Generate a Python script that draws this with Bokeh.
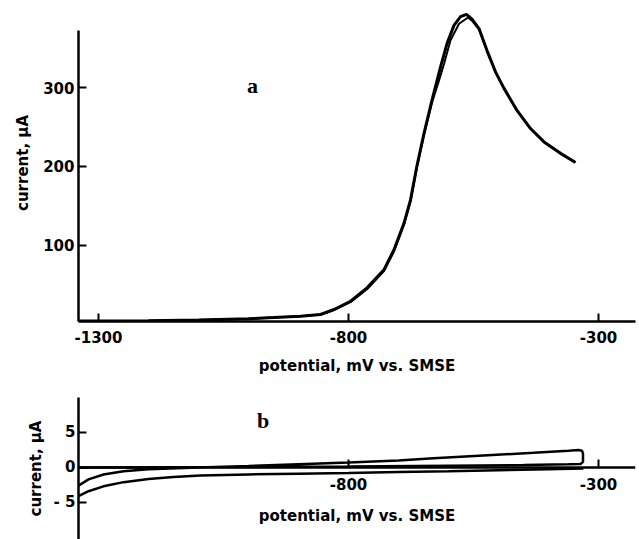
from bokeh.plotting import figure
from bokeh.layouts import column
from bokeh.models import FixedTicker, Range1d, Label
from bokeh.embed import file_html
from bokeh.resources import INLINE

# ---- data (panel a): two nearly coincident scans ----
pot_a1 = [-1340, -1200, -1100, -1000, -950, -896, -856, -829, -796, -763, -729, -709, -689,
          -676, -663, -649, -633, -616, -603, -589, -576, -564, -553, -539, -523, -506,
          -489, -463, -436, -409, -376, -346]
cur_a1 = [3.5, 4, 5, 6.5, 8, 9.7, 11.9, 18.2, 28.7, 45.7, 68.8, 94.1, 127.9,
          157.4, 201, 241.9, 284, 326, 355.8, 379, 390, 393, 387, 375, 347, 320,
          299, 271, 248, 231, 216.5, 205]
pot_a2 = [-1340, -1200, -1100, -1000, -950, -896, -856, -829, -796, -763, -729, -709, -689,
          -676, -663, -649, -633, -619, -609, -596, -579, -561, -553, -539, -523, -506,
          -489, -463, -436, -409, -376, -346]
cur_a2 = [3.5, 4, 5, 6.5, 8, 9.7, 11.9, 17.5, 27.5, 44, 67, 92, 126,
          155, 199, 240, 281, 309, 330, 360, 381, 389, 385, 374, 347, 320,
          299, 271, 248, 231, 216.5, 205]

# ---- data (panel b) ----
pot_b1 = [-1340, -1320, -1290, -1250, -1200, -1100, -1000, -900, -800, -700, -630, -530,
          -430, -360, -340, -333, -331, -331, -336, -360, -450, -600, -800, -1000, -1340]
cur_b1 = [-2.6, -1.7, -1.0, -0.55, -0.25, 0, 0.2, 0.45, 0.7, 1.0, 1.3, 1.7,
          2.1, 2.4, 2.5, 2.4, 2.0, 0.8, 0.5, 0.45, 0.35, 0.25, 0.12, 0.05, 0]
pot_b2 = [-1340, -1320, -1290, -1250, -1200, -1150, -1096, -1000, -900, -800, -700, -600,
          -500, -400, -330]
cur_b2 = [-4.1, -3.4, -2.7, -2.1, -1.65, -1.35, -1.15, -1.0, -0.9, -0.8, -0.65, -0.55,
          -0.4, -0.25, -0.15]

xticks_a = [-1300, -800, -300]
yticks_a = [100, 200, 300]
xticks_b = [-800, -300]
yticks_b = [-5, 0, 5]

FONT = "DejaVu Sans"
xlabel = "potential, mV vs. SMSE"
ylabel = "current, \u00b5A"


def style(p):
    p.background_fill_color = "white"
    p.border_fill_color = "white"
    p.outline_line_color = None
    p.xgrid.visible = False
    p.ygrid.visible = False
    for ax in (p.xaxis[0], p.yaxis[0]):
        ax.axis_line_width = 2.5
        ax.axis_line_color = "black"
        ax.major_tick_line_width = 2
        ax.major_tick_line_color = "black"
        ax.major_tick_in = 8
        ax.major_tick_out = 0
        ax.minor_tick_line_color = None
        ax.major_label_text_font = FONT
        ax.major_label_text_font_style = "bold"
        ax.major_label_text_font_size = "15px"
        ax.major_label_text_color = "black"
        ax.axis_label_text_font = FONT
        ax.axis_label_text_font_style = "bold"
        ax.axis_label_text_font_size = "15px"
        ax.axis_label_text_color = "black"


# ---- panel a ----
p1 = figure(width=639, height=377, output_backend="svg", toolbar_location=None,
            x_range=Range1d(-1340, -226), y_range=Range1d(3, 405.5),
            min_border_left=78, min_border_right=4, min_border_top=4, min_border_bottom=0)
style(p1)
p1.line(pot_a1, cur_a1, line_color="black", line_width=3)
p1.line(pot_a2, cur_a2, line_color="black", line_width=2)
p1.xaxis.ticker = FixedTicker(ticks=xticks_a)
p1.yaxis.ticker = FixedTicker(ticks=yticks_a)
p1.xaxis.major_label_overrides = {t: str(t) for t in xticks_a}
p1.xaxis.axis_label = xlabel
p1.yaxis.axis_label = ylabel
p1.xaxis.major_label_standoff = 9
p1.xaxis.axis_label_standoff = 11
p1.yaxis.major_label_standoff = 4
p1.yaxis.axis_label_standoff = 8
p1.yaxis.bounds = (3, 372)
p1.add_layout(Label(x=-992, y=303, text="a", text_font="Liberation Serif",
                    text_font_style="bold", text_font_size="22px", text_color="black",
                    text_align="center", text_baseline="alphabetic"))

# ---- panel b ----
p2 = figure(width=639, height=162, output_backend="svg", toolbar_location=None,
            x_range=Range1d(-1340, -226), y_range=Range1d(-10.3, 10),
            min_border_left=78, min_border_right=4, min_border_top=20, min_border_bottom=0)
style(p2)
p2.line(pot_b1, cur_b1, line_color="black", line_width=2.5)
p2.line(pot_b2, cur_b2, line_color="black", line_width=2.5)
p2.xaxis.ticker = FixedTicker(ticks=xticks_b)
p2.yaxis.ticker = FixedTicker(ticks=yticks_b)
p2.xaxis.major_label_overrides = {t: str(t) for t in xticks_b}
p2.yaxis.major_label_overrides = {-5: "- 5", 0: "0", 5: "5"}
p2.xaxis.fixed_location = 0
p2.xaxis.axis_label = xlabel
p2.yaxis.axis_label = ylabel
p2.xaxis.major_label_standoff = 11
p2.xaxis.axis_label_standoff = 13
p2.yaxis.major_label_standoff = 3
p2.yaxis.axis_label_standoff = 6
p2.add_layout(Label(x=-971, y=6.7, text="b", text_font="Liberation Serif",
                    text_font_style="bold", text_font_size="22px", text_color="black",
                    text_align="center", text_baseline="alphabetic"))

layout = column(p1, p2)
open("out.html", "w").write(file_html(layout, INLINE))
